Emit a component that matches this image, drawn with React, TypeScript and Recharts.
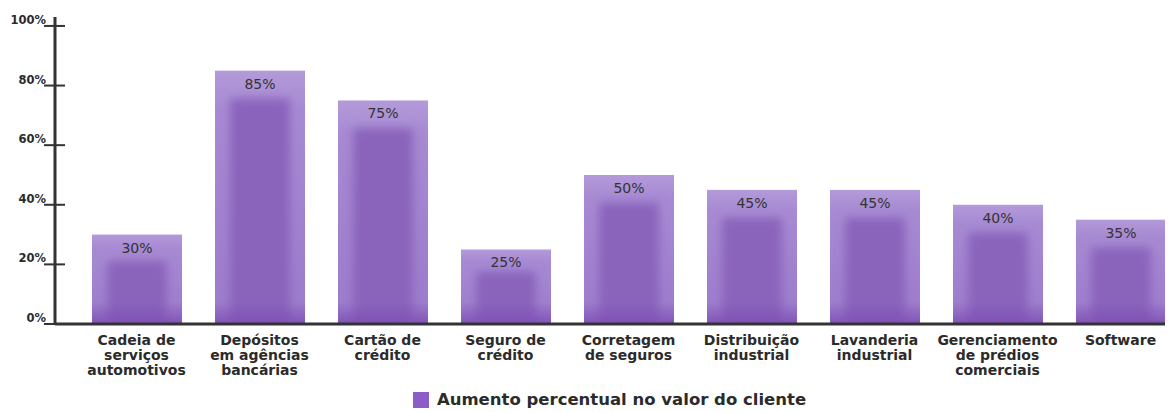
import React from "react";
import { BarChart, Bar, XAxis, YAxis, Legend, LabelList } from "recharts";

const categories = [
  "Cadeia de\nserviços\nautomotivos",
  "Depósitos\nem agências\nbancárias",
  "Cartão de\ncrédito",
  "Seguro de\ncrédito",
  "Corretagem\nde seguros",
  "Distribuição\nindustrial",
  "Lavanderia\nindustrial",
  "Gerenciamento\nde prédios\ncomerciais",
  "Software",
];
const values = [30, 85, 75, 25, 50, 45, 45, 40, 35];
const yTicks = [0, 20, 40, 60, 80, 100];
const seriesName = "Aumento percentual no valor do cliente";

const data = categories.map((c, i) => ({ name: c, value: values[i] }));

const FONT = "'DejaVu Sans', Verdana, sans-serif";

const BarShape = (props: any) => {
  const { x, y, width, height } = props;
  if (!height || height <= 0) return null;
  const inset = width * 0.17;
  const topBand = Math.min(28, height * 0.3);
  return (
    <g>
      <rect x={x} y={y} width={width} height={height} fill="url(#outerGrad)" />
      <rect
        x={x + inset}
        y={y + topBand}
        width={width - 2 * inset}
        height={height - topBand}
        fill="#8a63bb"
        filter="url(#soft)"
      />
      <rect x={x} y={y + height - 22} width={width} height={22} fill="url(#bottomGrad)" />
    </g>
  );
};

const XTick = (props: any) => {
  const { x, y, payload } = props;
  const lines = String(payload.value).split("\n");
  return (
    <g transform={`translate(${x},${y})`}>
      <text
        textAnchor="middle"
        fill="#2b2b2b"
        fontFamily={FONT}
        fontWeight="bold"
        fontSize={14}
      >
        {lines.map((l, i) => (
          <tspan key={i} x={0} dy={i === 0 ? 13 : 15}>
            {l}
          </tspan>
        ))}
      </text>
    </g>
  );
};

const YTick = (props: any) => {
  const { x, y, payload } = props;
  const ax = x + 10;
  return (
    <g>
      <line x1={ax - 11} x2={ax + 10} y1={y} y2={y} stroke="#333" strokeWidth={2} />
      <text
        x={ax - 9}
        y={y}
        dy={-2}
        textAnchor="end"
        fill="#2b2b2b"
        fontFamily={FONT}
        fontWeight="bold"
        fontSize={11.5}
      >
        {payload.value}%
      </text>
    </g>
  );
};

const LegendContent = () => (
  <div
    style={{
      display: "flex",
      alignItems: "center",
      justifyContent: "center",
      fontFamily: FONT,
      fontSize: 16.5,
      fontWeight: "bold",
      color: "#2b2b2b",
      paddingLeft: 38,
    }}
  >
    <span
      style={{
        display: "inline-block",
        width: 16,
        height: 16,
        background: "#8e5cc6",
        marginRight: 8,
      }}
    />
    <span>{seriesName}</span>
  </div>
);

export default function App() {
  return (
    <div style={{ width: 1165, height: 404, overflow: "visible" }}>
      <BarChart
        width={1165}
        height={404}
        data={data}
        margin={{ top: 9, right: -9, bottom: 0, left: 0 }}
        style={{ overflow: "visible" }}
      >
        <defs>
          <linearGradient id="outerGrad" x1="0" y1="0" x2="0" y2="1">
            <stop offset="0%" stopColor="#b39ad9" />
            <stop offset="15%" stopColor="#a78ad3" />
            <stop offset="100%" stopColor="#9b7acb" />
          </linearGradient>
          <linearGradient id="bottomGrad" x1="0" y1="0" x2="0" y2="1">
            <stop offset="0%" stopColor="#7d4fb5" stopOpacity={0} />
            <stop offset="100%" stopColor="#7a48b2" stopOpacity={0.8} />
          </linearGradient>
          <filter id="soft" x="-20%" y="-20%" width="140%" height="140%">
            <feGaussianBlur stdDeviation="5" />
          </filter>
        </defs>
        <XAxis
          dataKey="name"
          interval={0}
          tick={<XTick />}
          tickLine={false}
          axisLine={{ stroke: "#333", strokeWidth: 3 }}
          height={68}
          padding={{ left: 20, right: 0 }}
        />
        <YAxis
          width={47}
          domain={[0, 103]}
          ticks={yTicks}
          tick={<YTick />}
          tickLine={false}
          tickSize={8}
          axisLine={{ stroke: "#333", strokeWidth: 3 }}
          allowDataOverflow
        />
        <Legend
          verticalAlign="bottom"
          content={<LegendContent />}
          wrapperStyle={{ top: 382, left: 0, width: 1165, height: 20 }}
        />
        <Bar
          dataKey="value"
          name={seriesName}
          barSize={90}
          shape={<BarShape />}
          isAnimationActive={false}
        >
          <LabelList
            dataKey="value"
            position="insideTop"
            offset={8}
            formatter={(v: any) => `${v}%`}
            fill="#333"
            fontFamily={FONT}
            fontSize={14}
          />
        </Bar>
      </BarChart>
    </div>
  );
}
